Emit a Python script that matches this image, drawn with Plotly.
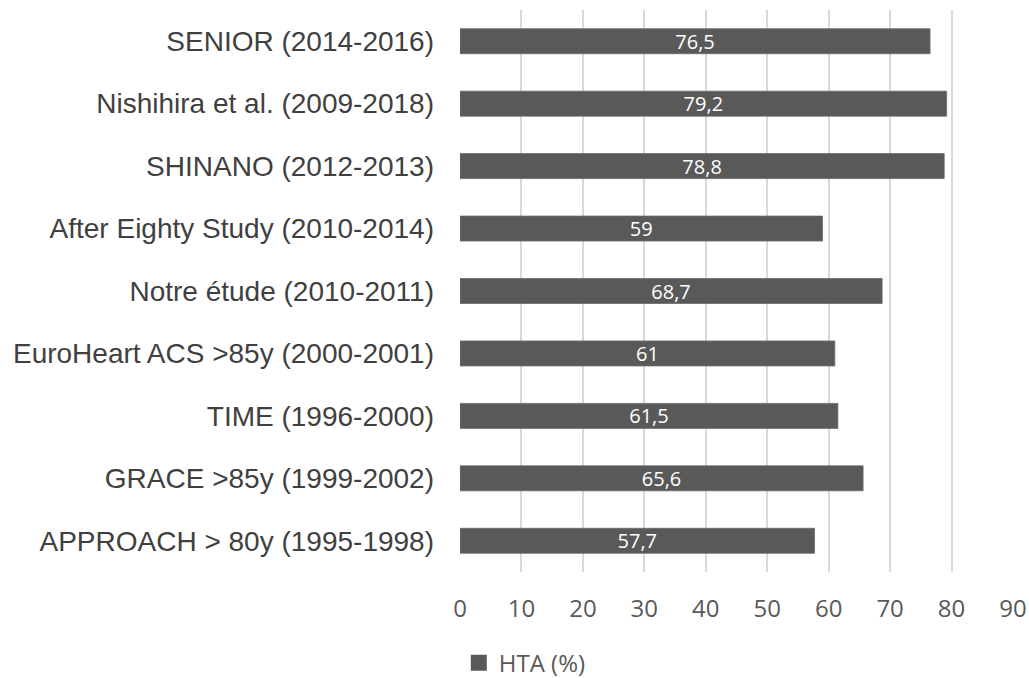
import plotly.graph_objects as go

# Studies listed top to bottom, with the share of hypertensive patients (%)
studies = [
    "SENIOR (2014-2016)",
    "Nishihira et al. (2009-2018)",
    "SHINANO (2012-2013)",
    "After Eighty Study (2010-2014)",
    "Notre étude (2010-2011)",
    "EuroHeart ACS >85y (2000-2001)",
    "TIME (1996-2000)",
    "GRACE >85y (1999-2002)",
    "APPROACH > 80y (1995-1998)",
]
hta_pct = [76.5, 79.2, 78.8, 59, 68.7, 61, 61.5, 65.6, 57.7]
x_ticks = [0, 10, 20, 30, 40, 50, 60, 70, 80, 90]
series_name = "HTA (%)"
bar_color = "#595959"

# Labels use a decimal comma
bar_labels = [f"{v:g}".replace(".", ",") for v in hta_pct]

fig = go.Figure()
fig.add_trace(
    go.Bar(
        x=hta_pct,
        y=studies,
        orientation="h",
        name=series_name,
        width=0.4,
        marker=dict(color=bar_color, line=dict(color="#6a6a6a", width=0.8)),
        text=bar_labels,
        textposition="inside",
        insidetextanchor="middle",
        textangle=0,
        textfont=dict(family="Open Sans", size=20, color="white"),
        showlegend=False,
    )
)
# Legend entry with a larger square swatch
fig.add_trace(
    go.Scatter(
        x=[None],
        y=[studies[0]],
        mode="markers",
        name=series_name,
        marker=dict(symbol="square", size=16, color=bar_color),
        showlegend=True,
        hoverinfo="skip",
    )
)

fig.update_layout(
    width=1029,
    height=678,
    margin=dict(l=460, r=16, t=10, b=106, autoexpand=False),
    paper_bgcolor="white",
    plot_bgcolor="white",
    uniformtext=dict(minsize=20, mode="show"),
    legend=dict(
        orientation="h",
        xref="container",
        yref="container",
        x=0.51,
        xanchor="center",
        y=0.022,
        yanchor="middle",
        font=dict(family="Open Sans", size=24, color="#595959"),
        itemwidth=30,
    ),
)

fig.update_xaxes(
    range=[0, 90],
    tickvals=x_ticks,
    showgrid=True,
    gridcolor="#d9d9d9",
    gridwidth=1.5,
    zeroline=False,
    showline=False,
    ticks="",
    ticklabelstandoff=20,
    tickfont=dict(family="Open Sans", size=24, color="#595959"),
)

fig.update_yaxes(
    categoryorder="array",
    categoryarray=studies,
    range=[len(studies) - 0.5, -0.5],
    showgrid=False,
    zeroline=False,
    showline=False,
    ticks="",
    ticklabelstandoff=25,
    tickfont=dict(family="Liberation Sans", size=28, color="#404040"),
)

fig.write_html("out.html")
